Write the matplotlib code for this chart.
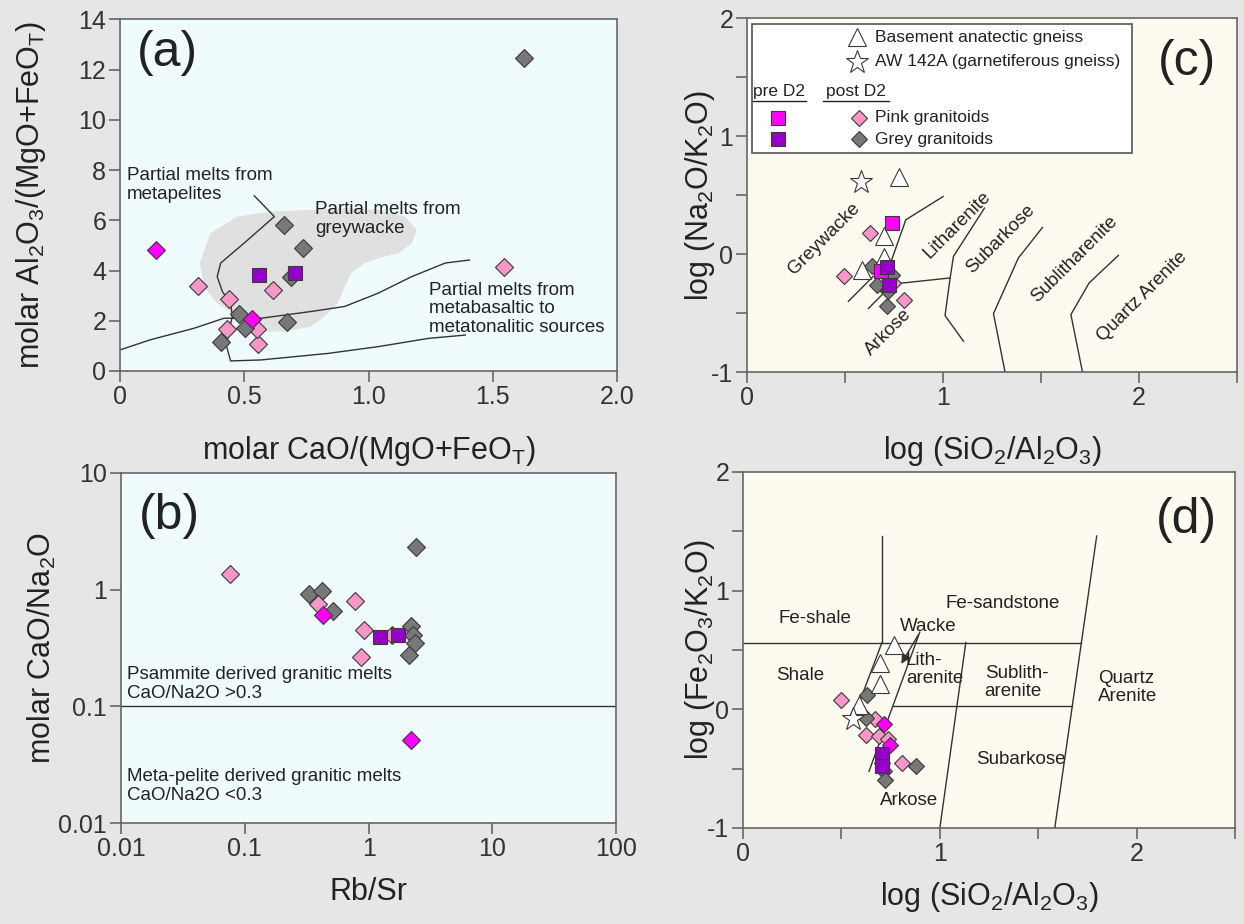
import numpy as np
import matplotlib
matplotlib.use("Agg")
import matplotlib.pyplot as plt
from matplotlib.patches import Polygon, Rectangle
from matplotlib.ticker import FixedLocator, FuncFormatter, NullLocator

plt.rcParams['font.family'] = ['Liberation Sans', 'DejaVu Sans']
plt.rcParams['mathtext.fontset'] = 'custom'
plt.rcParams['mathtext.rm'] = 'Liberation Sans'
plt.rcParams['mathtext.it'] = 'Liberation Sans:italic'
plt.rcParams['axes.unicode_minus'] = False

PINK = '#F996C8'
GREY = '#787878'
MAGENTA = '#FF00FF'
PURPLE = '#9600C8'
EDGE = '#3a3a3a'

# ---- panel (a): molar CaO/(MgO+FeOT) vs molar Al2O3/(MgO+FeOT)
a_pink_x = [0.313, 0.439, 0.614, 0.429, 0.557, 0.553, 1.545]
a_pink_y = [3.39, 2.86, 3.23, 1.66, 1.06, 1.67, 4.15]
a_grey_x = [1.627, 0.661, 0.736, 0.688, 0.671, 0.479, 0.503, 0.408]
a_grey_y = [12.48, 5.82, 4.89, 3.76, 1.94, 2.26, 1.70, 1.17]
a_mag_x = [0.146, 0.533]
a_mag_y = [4.83, 2.06]
a_pur_x = [0.560, 0.703]
a_pur_y = [3.83, 3.92]

# greywacke melt field (grey blob)
blob_x = [0.321, 0.364, 0.472, 0.607, 0.769, 0.904, 1.039, 1.147, 1.194, 1.174, 1.120, 1.039,
          0.985, 0.931, 0.904, 0.877, 0.823, 0.769, 0.661, 0.580, 0.526, 0.472, 0.391, 0.337]
blob_y = [4.30, 5.49, 6.15, 6.35, 6.42, 6.49, 6.42, 6.15, 5.62, 5.09, 4.69, 4.49,
          4.30, 3.90, 3.36, 2.70, 2.17, 1.77, 1.57, 1.57, 1.77, 2.17, 2.70, 3.36]
# metapelite field boundary
pel_x = [0.540, 0.621, 0.499, 0.405, 0.391, 0.412, 0.445, 0.452, 0.439, 0.429, 0.445,
         0.567, 0.837, 1.039, 1.242, 1.389]
pel_y = [6.98, 6.15, 5.09, 4.30, 3.76, 3.16, 2.70, 2.17, 1.64, 0.97, 0.40,
         0.44, 0.70, 0.97, 1.30, 1.43]
# metabasalt / metatonalite boundary
bas_x = [0.0, 0.121, 0.297, 0.418, 0.567, 0.769, 0.904, 1.039, 1.174, 1.309, 1.406]
bas_y = [0.84, 1.24, 1.70, 2.10, 2.10, 2.37, 2.57, 3.10, 3.76, 4.30, 4.42]

# ---- panel (b): Rb/Sr vs molar CaO/Na2O
b_pink_x = [0.393, 0.778, 0.920, 0.869, 1.54, 0.076]
b_pink_y = [0.759, 0.805, 0.454, 0.263, 0.406, 1.35]
b_grey_x = [2.40, 0.333, 0.419, 0.514, 2.19, 2.30, 2.38, 2.14]
b_grey_y = [2.30, 0.924, 0.967, 0.661, 0.485, 0.411, 0.349, 0.277]
b_mag_x = [0.431, 2.20]
b_mag_y = [0.611, 0.0519]
b_pur_x = [1.24, 1.74]
b_pur_y = [0.393, 0.411]

# ---- panel (c): log(SiO2/Al2O3) vs log(Na2O/K2O)
c_pink_x = [0.628, 0.495, 0.801, 0.746]
c_pink_y = [0.178, -0.189, -0.386, -0.245]
c_grey_x = [0.636, 0.662, 0.738, 0.721, 0.713]
c_grey_y = [-0.105, -0.260, -0.175, -0.316, -0.443]
c_tri_x = [0.776, 0.700, 0.700, 0.588]
c_tri_y = [0.656, 0.155, -0.025, -0.133]
c_star_x = [0.582]
c_star_y = [0.614]
c_mag_x = [0.738, 0.682]
c_mag_y = [0.262, -0.147]
c_pur_x = [0.716, 0.724]
c_pur_y = [-0.110, -0.260]

c_lines = [
    ([0.517, 0.644], [-0.401, -0.189]),
    ([0.619, 0.745], [-0.462, -0.251]),
    ([0.738, 0.810, 1.000], [-0.048, 0.290, 0.487]),
    ([0.764, 1.036], [-0.251, -0.203]),
    ([1.211, 1.053, 1.036, 1.010, 1.104], [0.389, -0.020, -0.203, -0.522, -0.739]),
    ([1.507, 1.384, 1.257, 1.316], [0.225, -0.034, -0.505, -1.0]),
    ([1.894, 1.745, 1.652, 1.711], [-0.012, -0.245, -0.513, -1.0]),
]
c_names = ['Greywacke', 'Litharenite', 'Subarkose', 'Sublitharenite', 'Quartz Arenite', 'Arkose']
c_name_x = [0.393, 1.074, 1.295, 1.668, 2.015, 0.719]
c_name_y = [0.129, 0.248, 0.128, -0.048, -0.361, -0.665]

# ---- panel (d): log(SiO2/Al2O3) vs log(Fe2O3/K2O)
d_pink_x = [0.496, 0.670, 0.624, 0.692, 0.738, 0.806]
d_pink_y = [0.078, -0.078, -0.219, -0.225, -0.253, -0.456]
d_grey_x = [0.628, 0.624, 0.704, 0.716, 0.721, 0.877]
d_grey_y = [0.118, -0.070, -0.450, -0.521, -0.597, -0.478]
d_mag_x = [0.716, 0.746]
d_mag_y = [-0.127, -0.304]
d_pur_x = [0.704, 0.704]
d_pur_y = [-0.380, -0.478]
d_tri_x = [0.766, 0.695, 0.695, 0.589]
d_tri_y = [0.540, 0.388, 0.211, 0.034]
d_star_x = [0.560]
d_star_y = [-0.084]

d_lines = [
    ([0.0, 1.719], [0.563, 0.563]),
    ([0.706, 0.706], [0.563, 1.46]),
    ([0.706, 0.574], [0.563, -0.017]),
    ([0.898, 0.640], [0.650, -0.523]),
    ([0.761, 1.673], [0.030, 0.030]),
    ([1.132, 1.000], [0.563, -1.0]),
    ([1.797, 1.584], [1.46, -1.0]),
]
d_names = ['Fe-shale', 'Fe-sandstone', 'Wacke', 'Shale', 'Subarkose', 'Arkose']
d_name_x = [0.365, 1.32, 0.939, 0.289, 1.411, 0.843]
d_name_y = [0.768, 0.894, 0.70, 0.287, -0.422, -0.768]
d_names_left = ['Lith-\narenite', 'Sublith-\narenite', 'Quartz\nArenite']
d_left_x = [0.827, 1.228, 1.802]
d_left_y = [0.338, 0.228, 0.186]


def style(ax, bg):
    ax.set_facecolor(bg)
    for s in ax.spines.values():
        s.set_color('#666666')
        s.set_linewidth(1.2)
    ax.tick_params(direction='out', length=8, width=1.2, color='#666666',
                   labelsize=18, labelcolor='#333333', pad=2)


def half_fmt(v, pos):
    if abs(v - round(v)) < 1e-6:
        return '%d' % round(v)
    return ''


def points(ax, x, y, marker, color, ms, z=3):
    ax.plot(x, y, ls='none', marker=marker, ms=ms, mfc=color, mec=EDGE, mew=0.8, zorder=z)


def main():
    fig = plt.figure(figsize=(12.44, 9.24), dpi=100)
    fig.patch.set_facecolor('#E6E6E6')
    cyan = '#F0FBFD'
    cream = '#FDFAF0'
    lc = '#333333'
    fs_lab = 22
    fs_txt = 13.5

    # (a)
    ax = fig.add_axes([0.0965, 0.5985, 0.3995, 0.3804])
    style(ax, cyan)
    ax.add_patch(Polygon(np.column_stack([blob_x, blob_y]), closed=True,
                         fc='#E0E0E0', ec='none', zorder=1))
    ax.plot(pel_x, pel_y, color=lc, lw=1, zorder=2)
    ax.plot(bas_x, bas_y, color=lc, lw=1, zorder=2)
    points(ax, a_pink_x, a_pink_y, 'D', PINK, 9.5)
    points(ax, a_grey_x, a_grey_y, 'D', GREY, 9.5)
    points(ax, a_mag_x, a_mag_y, 'D', MAGENTA, 9.5, 4)
    points(ax, a_pur_x, a_pur_y, 's', PURPLE, 10.5, 4)
    ax.set_xlim(0, 2)
    ax.set_ylim(0, 14)
    ax.set_xticks([0, 0.5, 1.0, 1.5, 2.0])
    ax.set_xticklabels(['0', '0.5', '1.0', '1.5', '2.0'])
    ax.set_yticks(range(0, 15, 2))
    ax.text(0.028, 7.41, 'Partial melts from\nmetapelites', fontsize=fs_txt, color='#222222',
            va='center', ha='left', linespacing=1.15)
    ax.text(0.785, 6.06, 'Partial melts from\ngreywacke', fontsize=fs_txt, color='#222222',
            va='center', ha='left', linespacing=1.15)
    ax.text(1.243, 2.47, 'Partial melts from\nmetabasaltic to\nmetatonalitic sources',
            fontsize=fs_txt, color='#222222', va='center', ha='left', linespacing=1.15)
    ax.text(0.095, 0.905, '(a)', transform=ax.transAxes, fontsize=36, ha='center',
            va='center', color='#222222')
    ax.set_xlabel('molar CaO/(MgO+FeO$_\\mathrm{T}$)', fontsize=fs_lab, color='#222222')
    ax.set_ylabel('molar Al$_2$O$_3$/(MgO+FeO$_\\mathrm{T}$)', fontsize=fs_lab, color='#222222')
    ax.xaxis.set_label_coords(0.5, -0.18)
    ax.yaxis.set_label_coords(-0.145, 0.5)

    # (b)
    ax = fig.add_axes([0.0973, 0.1093, 0.398, 0.3788])
    style(ax, cyan)
    ax.set_xscale('log')
    ax.set_yscale('log')
    ax.axhline(0.1, color=lc, lw=1, zorder=2)
    points(ax, b_grey_x, b_grey_y, 'D', GREY, 9.5)
    points(ax, b_pink_x, b_pink_y, 'D', PINK, 9.5)
    points(ax, b_mag_x, b_mag_y, 'D', MAGENTA, 9.5, 4)
    points(ax, b_pur_x, b_pur_y, 's', PURPLE, 10.5, 3.5)
    ax.set_xlim(0.01, 100)
    ax.set_ylim(0.01, 10)
    ax.xaxis.set_major_locator(FixedLocator([0.01, 0.1, 1, 10, 100]))
    ax.yaxis.set_major_locator(FixedLocator([0.01, 0.1, 1, 10]))
    ax.xaxis.set_minor_locator(NullLocator())
    ax.yaxis.set_minor_locator(NullLocator())
    ax.set_xticklabels(['0.01', '0.1', '1', '10', '100'])
    ax.set_yticklabels(['0.01', '0.1', '1', '10'])
    ax.text(0.012, 0.397, 'Psammite derived granitic melts\nCaO/Na2O >0.3', transform=ax.transAxes,
            fontsize=fs_txt, color='#222222', va='center', ha='left', linespacing=1.15)
    ax.text(0.012, 0.106, 'Meta-pelite derived granitic melts\nCaO/Na2O <0.3', transform=ax.transAxes,
            fontsize=fs_txt, color='#222222', va='center', ha='left', linespacing=1.15)
    ax.text(0.097, 0.877, '(b)', transform=ax.transAxes, fontsize=36, ha='center',
            va='center', color='#222222')
    ax.set_xlabel('Rb/Sr', fontsize=fs_lab, color='#222222')
    ax.set_ylabel('molar CaO/Na$_2$O', fontsize=fs_lab, color='#222222')
    ax.xaxis.set_label_coords(0.5, -0.155)
    ax.yaxis.set_label_coords(-0.128, 0.5)

    # (c)
    ax = fig.add_axes([0.6005, 0.5974, 0.394, 0.3831])
    style(ax, cream)
    for lx, ly in c_lines:
        ax.plot(lx, ly, color=lc, lw=1, zorder=2)
    for name, x, y in zip(c_names, c_name_x, c_name_y):
        ax.text(x, y, name, rotation=45, fontsize=fs_txt, ha='center', va='center',
                color='#222222', rotation_mode='anchor')
    points(ax, c_pink_x, c_pink_y, 'D', PINK, 8.5)
    points(ax, c_grey_x, c_grey_y, 'D', GREY, 8.5)
    points(ax, c_tri_x, c_tri_y, '^', 'white', 13)
    points(ax, c_star_x, c_star_y, '*', 'white', 17)
    points(ax, c_mag_x, c_mag_y, 's', MAGENTA, 10, 4)
    points(ax, c_pur_x, c_pur_y, 's', PURPLE, 10, 4)
    ax.set_xlim(0, 2.5)
    ax.set_ylim(-1, 2)
    ax.set_xticks(np.arange(0, 2.51, 0.5))
    ax.set_yticks(np.arange(-1, 2.01, 0.5))
    ax.xaxis.set_major_formatter(FuncFormatter(half_fmt))
    ax.yaxis.set_major_formatter(FuncFormatter(half_fmt))
    ax.text(0.898, 0.876, '(c)', transform=ax.transAxes, fontsize=36, ha='center',
            va='center', color='#222222')
    ax.set_xlabel('log (SiO$_2$/Al$_2$O$_3$)', fontsize=fs_lab, color='#222222')
    ax.set_ylabel('log (Na$_2$O/K$_2$O)', fontsize=fs_lab, color='#222222')
    ax.xaxis.set_label_coords(0.5, -0.175)
    ax.yaxis.set_label_coords(-0.061, 0.5)

    # legend box of (c)
    T = ax.transAxes
    ax.add_patch(Rectangle((0.010, 0.619), 0.776, 0.364, transform=T, fc='white',
                           ec='#555555', lw=1.2, zorder=5))
    leg = dict(transform=T, ls='none', mec=EDGE, mew=0.8, zorder=6, clip_on=False)
    ax.plot([0.224], [0.946], marker='^', ms=13, mfc='white', **leg)
    ax.plot([0.224], [0.876], marker='*', ms=17, mfc='white', **leg)
    ax.plot([0.063], [0.718], marker='s', ms=10, mfc=MAGENTA, **leg)
    ax.plot([0.229], [0.718], marker='D', ms=8.5, mfc=PINK, **leg)
    ax.plot([0.063], [0.659], marker='s', ms=10, mfc=PURPLE, **leg)
    ax.plot([0.229], [0.657], marker='D', ms=8.5, mfc=GREY, **leg)
    tk = dict(transform=T, fontsize=12.5, color='#222222', va='center', zorder=6)
    ax.text(0.261, 0.946, 'Basement anatectic gneiss', ha='left', **tk)
    ax.text(0.261, 0.876, 'AW 142A (garnetiferous gneiss)', ha='left', **tk)
    ax.text(0.065, 0.792, 'pre D2', ha='center', **tk)
    ax.text(0.222, 0.792, 'post D2', ha='center', **tk)
    ax.plot([0.012, 0.120], [0.765, 0.765], transform=T, color='#222222', lw=1, zorder=6)
    ax.plot([0.154, 0.290], [0.765, 0.765], transform=T, color='#222222', lw=1, zorder=6)
    ax.text(0.261, 0.718, 'Pink granitoids', ha='left', **tk)
    ax.text(0.261, 0.657, 'Grey granitoids', ha='left', **tk)

    # (d)
    ax = fig.add_axes([0.5973, 0.1039, 0.3955, 0.3853])
    style(ax, cream)
    for lx, ly in d_lines:
        ax.plot(lx, ly, color=lc, lw=1, zorder=2)
    ax.annotate('', xy=(0.797, 0.363), xytext=(0.898, 0.650),
                arrowprops=dict(arrowstyle='-|>', color=lc, lw=1, mutation_scale=14), zorder=2)
    for name, x, y in zip(d_names, d_name_x, d_name_y):
        ax.text(x, y, name, fontsize=fs_txt, ha='center', va='center', color='#222222')
    for name, x, y in zip(d_names_left, d_left_x, d_left_y):
        ax.text(x, y, name, fontsize=fs_txt, ha='left', va='center', color='#222222',
                linespacing=1.1)
    points(ax, d_pink_x, d_pink_y, 'D', PINK, 8.5)
    points(ax, d_grey_x, d_grey_y, 'D', GREY, 8.5)
    points(ax, d_mag_x, d_mag_y, 'D', MAGENTA, 8.5, 4)
    points(ax, d_pur_x, d_pur_y, 's', PURPLE, 10, 4)
    points(ax, d_tri_x, d_tri_y, '^', 'white', 13, 5)
    points(ax, d_star_x, d_star_y, '*', 'white', 17, 5)
    ax.set_xlim(0, 2.5)
    ax.set_ylim(-1, 2)
    ax.set_xticks(np.arange(0, 2.51, 0.5))
    ax.set_yticks(np.arange(-1, 2.01, 0.5))
    ax.xaxis.set_major_formatter(FuncFormatter(half_fmt))
    ax.yaxis.set_major_formatter(FuncFormatter(half_fmt))
    ax.text(0.902, 0.865, '(d)', transform=ax.transAxes, fontsize=36, ha='center',
            va='center', color='#222222')
    ax.set_xlabel('log (SiO$_2$/Al$_2$O$_3$)', fontsize=fs_lab, color='#222222')
    ax.set_ylabel('log (Fe$_2$O$_3$/K$_2$O)', fontsize=fs_lab, color='#222222')
    ax.xaxis.set_label_coords(0.5, -0.146)
    ax.yaxis.set_label_coords(-0.052, 0.5)

    fig.savefig('out.png', dpi=100, facecolor=fig.get_facecolor())


if __name__ == "__main__":
    main()
